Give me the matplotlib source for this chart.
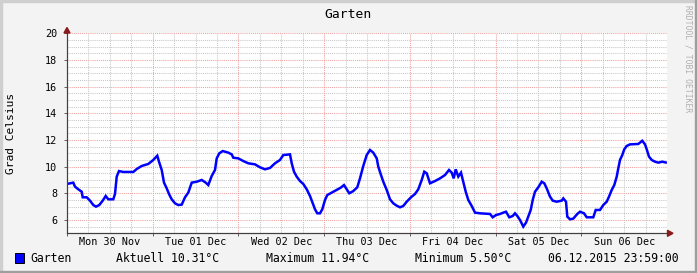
import matplotlib
matplotlib.use("Agg")
import matplotlib.pyplot as plt
from matplotlib.patches import Rectangle, Polygon

# ---- data (hours since Mon 30 Nov 2015 00:00, temperature in °C) ----
hours = [0, 0.84, 1.76, 2.24, 3.16, 4.12, 4.4, 5.52, 6.44, 7.36, 8.12, 9.04, 10.0, 10.84,
         11.56, 12.96, 13.44, 13.92, 14.56, 15.76, 18.56, 19.52, 20.92, 22.76, 24.16, 25.28,
         25.76, 26.52, 27.16, 27.92, 28.64, 29.32, 30.24, 31.16, 32.12, 33.04, 33.96, 34.92,
         36.32, 37.72, 38.84, 39.56, 40.52, 41.44, 41.92, 42.64, 43.6, 45.16, 46.12, 46.56,
         47.96, 49.36, 50.76, 52.64, 54.04, 55.44, 56.84, 58.24, 59.64, 60.56, 62.44, 62.92,
         63.56, 64.32, 65.24, 66.16, 67.12, 68.04, 68.8, 69.44, 70.08, 70.84, 71.48, 72.24,
         72.88, 74.12, 75.52, 76.64, 77.56, 78.32, 79.04, 80.16, 81.28, 82.04, 82.96, 83.92,
         84.84, 85.76, 86.72, 87.16, 87.92, 88.56, 89.52, 90.44, 91.36, 92.32, 93.24, 94.16,
         95.12, 96.32, 97.44, 98.36, 99.32, 100.04, 100.72, 101.64, 103.04, 104.44, 105.84,
         106.96, 107.72, 108.28, 108.84, 109.56, 110.32, 110.96, 111.64, 112.36, 113.32,
         114.24, 115.64, 118.44, 119.2, 120.12, 121.24, 122.16, 122.92, 123.84, 124.8,
         125.44, 126.08, 126.84, 127.76, 128.52, 129.16, 129.84, 130.4, 131.04, 131.96,
         132.92, 133.64, 134.32, 135.24, 136.0, 137.12, 138.52, 138.96, 139.72, 140.08,
         140.84, 141.76, 142.88, 143.64, 144.76, 145.52, 147.36, 148.04, 149.24, 150.16,
         151.12, 151.76, 152.52, 153.24, 153.92, 154.36, 154.84, 155.48, 156.04, 156.72,
         157.64, 159.96, 161.08, 161.84, 162.32, 162.96, 163.72, 164.64, 165.56, 166.68,
         167.64]
temps = [8.70, 8.75, 8.8, 8.5, 8.3, 8.12, 7.7, 7.7, 7.45, 7.12, 7.0, 7.12, 7.45, 7.8,
         7.55, 7.55, 7.95, 9.25, 9.67, 9.6, 9.6, 9.82, 10.05, 10.2, 10.5, 10.82,
         10.37, 9.75, 8.8, 8.37, 7.9, 7.55, 7.25, 7.12, 7.15, 7.7, 8.05, 8.8,
         8.87, 9.0, 8.8, 8.62, 9.3, 9.75, 10.62, 11.0, 11.17, 11.05, 10.92, 10.67,
         10.62, 10.42, 10.25, 10.17, 9.95, 9.8, 9.9, 10.25, 10.5, 10.87, 10.92, 10.25,
         9.62, 9.25, 8.92, 8.7, 8.3, 7.8, 7.25, 6.8, 6.5, 6.5, 6.8, 7.5,
         7.87, 8.05, 8.25, 8.42, 8.62, 8.3, 8.0, 8.17, 8.45, 9.12, 10.05, 10.87,
         11.25, 11.05, 10.62, 10.0, 9.37, 8.87, 8.25, 7.55, 7.25, 7.07, 6.95, 7.05,
         7.37, 7.7, 7.95, 8.3, 9.0, 9.62, 9.5, 8.75, 8.92, 9.12, 9.37,
         9.75, 9.55, 9.12, 9.8, 9.25, 9.55, 8.87, 8.12, 7.5, 7.05,
         6.55, 6.5, 6.45, 6.2, 6.37, 6.45, 6.55, 6.62, 6.2, 6.3,
         6.5, 6.3, 6.0, 5.5, 5.8, 6.25, 6.75, 7.5, 8.12, 8.45,
         8.87, 8.75, 8.37, 7.75, 7.45, 7.37, 7.45, 7.62, 7.37, 6.25,
         6.05, 6.1, 6.45, 6.62, 6.5, 6.2, 6.2, 6.75, 6.75, 7.12,
         7.37, 7.75, 8.25, 8.62, 9.25, 9.87, 10.5, 10.87, 11.3, 11.55,
         11.67, 11.7, 11.94, 11.67, 11.3, 10.75, 10.5, 10.37, 10.3, 10.37,
         10.31]

day_labels = ["Mon 30 Nov", "Tue 01 Dec", "Wed 02 Dec", "Thu 03 Dec",
              "Fri 04 Dec", "Sat 05 Dec", "Sun 06 Dec"]
y_major = [6, 8, 10, 12, 14, 16, 18, 20]
title = "Garten"
ylabel = "Grad Celsius"
series_name = "Garten"
legend_items = [("Aktuell 10.31°C", 116), ("Maximum 11.94°C", 266),
                ("Minimum 5.50°C", 415), ("06.12.2015 23:59:00", 548)]

W, H = 697, 273
FONT = "DejaVu Sans Mono"
fig = plt.figure(figsize=(W / 100, H / 100), dpi=100)
fig.patch.set_facecolor("#F3F3F3")

# 3D frame
fig.patches.append(Rectangle((0, 1 - 2 / H), 1, 2 / H, transform=fig.transFigure, color="#CFCFCF", zorder=0))
fig.patches.append(Rectangle((0, 0), 2 / W, 1, transform=fig.transFigure, color="#CFCFCF", zorder=0))
fig.patches.append(Rectangle((0, 0), 1, 2 / H, transform=fig.transFigure, color="#9E9E9E", zorder=0))
fig.patches.append(Rectangle((1 - 2 / W, 0), 2 / W, 1, transform=fig.transFigure, color="#9E9E9E", zorder=0))

x0, x1 = 67, 667
ytop, ybot = 33.3, 233.3
ax = fig.add_axes([x0 / W, (H - ybot) / H, (x1 - x0) / W, (ybot - ytop) / H])
ax.set_facecolor("white")
ax.set_xlim(0, 168)
ax.set_ylim(5, 20)

# grid
dot = (0, (1, 1))
for i in range(0, 31):
    v = 5 + 0.5 * i
    if v in y_major:
        ax.axhline(v, color="#F0A0A0", lw=0.75, ls=dot, zorder=1)
    else:
        ax.axhline(v, color="#C8C8C8", lw=0.75, ls=dot, zorder=1)
for h in range(6, 168, 6):
    if h % 24 == 0:
        ax.axvline(h, color="#F0A0A0", lw=0.75, ls=dot, zorder=1)
    else:
        ax.axvline(h, color="#C8C8C8", lw=0.75, ls=dot, zorder=1)

ax.plot(hours, temps, color="#0000FF", lw=1.8, zorder=3, solid_joinstyle="miter")

for s in ["top", "right"]:
    ax.spines[s].set_visible(False)
for s in ["left", "bottom"]:
    ax.spines[s].set_color("#404040")
    ax.spines[s].set_linewidth(0.8)

ax.set_yticks(y_major)
ax.set_yticklabels([str(v) for v in y_major], fontfamily=FONT, fontsize=7.3, color="#000000")
ax.tick_params(axis="y", length=2.5, width=0.7, color="#606060", pad=4.5)
ax.set_xticks([12 + 24 * i for i in range(7)])
ax.set_xticklabels(day_labels, fontfamily=FONT, fontsize=7.3, color="#000000")
ax.tick_params(axis="x", length=0, pad=3)
ax.set_xticks(list(range(0, 169, 24)), minor=True)
ax.tick_params(axis="x", which="minor", length=2.5, width=0.7, color="#606060")

# arrows
arrow_col = "#8B1A1A"
fig.patches.append(Polygon([[x0 / W, (H - 27.5) / H], [(x0 - 3) / W, (H - 33) / H],
                            [(x0 + 3) / W, (H - 33) / H]], closed=True,
                           transform=fig.transFigure, color=arrow_col, zorder=5))
fig.patches.append(Polygon([[(x1 + 6) / W, (H - ybot) / H], [(x1 + 0.5) / W, (H - ybot + 3) / H],
                            [(x1 + 0.5) / W, (H - ybot - 3) / H]], closed=True,
                           transform=fig.transFigure, color=arrow_col, zorder=5))
fig.lines.append(plt.Line2D([x0 / W, x0 / W], [(H - ybot) / H, (H - 30) / H],
                            transform=fig.transFigure, color="#404040", lw=0.8))
fig.lines.append(plt.Line2D([x0 / W, (x1 + 2) / W], [(H - ybot) / H, (H - ybot) / H],
                            transform=fig.transFigure, color="#404040", lw=0.8))

# texts
fig.text(348 / W, 1 - 14 / H, title, ha="center", va="center", fontfamily=FONT, fontsize=9.4)
fig.text(11 / W, 1 - 133 / H, ylabel, ha="center", va="center", rotation=90,
         fontfamily=FONT, fontsize=8.1)
fig.text(688 / W, 1 - 5 / H, "RRDTOOL / TOBI OETIKER", ha="center", va="top", rotation=-90,
         fontfamily=FONT, fontsize=5.8, color="#B0B0B0")

ly = 1 - 258.5 / H
fig.patches.append(Rectangle((15 / W, 1 - 263 / H), 9 / W, 10 / H, transform=fig.transFigure,
                             facecolor="#0000FF", edgecolor="#000000", lw=0.7, zorder=5))
fig.text(30 / W, ly, series_name, ha="left", va="center", fontfamily=FONT, fontsize=8.3)
for txt, px in legend_items:
    fig.text(px / W, ly, txt, ha="left", va="center", fontfamily=FONT, fontsize=8.3)

fig.savefig("out.png", dpi=100, facecolor=fig.get_facecolor())
